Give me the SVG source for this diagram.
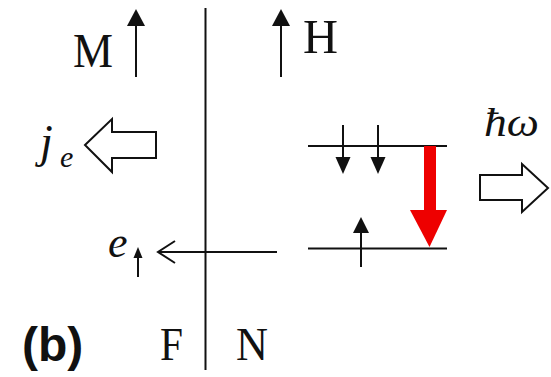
<svg xmlns="http://www.w3.org/2000/svg" width="551" height="377" viewBox="0 0 551 377">
<style>
.serif{font-family:"Liberation Serif","Times New Roman",serif;fill:#111}
.it{font-style:italic}
.ln{stroke:#111;stroke-width:2;fill:none}
.hollow{fill:#fff;stroke:#111;stroke-width:2;stroke-linejoin:miter}
.head{fill:#111;stroke:none}
</style>
<rect width="551" height="377" fill="#fff"/>
<g id="interface">
<line class="ln" x1="205.5" y1="8" x2="205.5" y2="370"/>
</g>
<g id="M">
<text class="serif" x="73" y="67" font-size="48" textLength="40" lengthAdjust="spacingAndGlyphs">M</text>
<line class="ln" x1="136" y1="24" x2="136" y2="77"/>
<polygon class="head" points="136,9 127,26 145,26"/>
</g>
<g id="H">
<line class="ln" x1="281" y1="24" x2="281" y2="77"/>
<polygon class="head" points="281,9 272,26 290,26"/>
<text class="serif" x="303" y="53" font-size="49" textLength="35" lengthAdjust="spacingAndGlyphs">H</text>
</g>
<g id="je">
<text class="serif it" x="40" y="157" font-size="46">j</text>
<text class="serif it" x="60" y="167" font-size="30">e</text>
<polygon class="hollow" points="85,145 112,119 112,132 156,132 156,158 112,158 112,172"/>
</g>
<g id="e-up">
<text class="serif it" x="108" y="257" font-size="44">e</text>
<line class="ln" x1="138" y1="254" x2="138" y2="277"/>
<polygon class="head" points="138,247 133.5,258 142.5,258"/>
</g>
<g id="connectors">
<line class="ln" x1="158" y1="252" x2="277" y2="252"/>
<polyline class="ln" points="175,241 158,252 175,263"/>
</g>
<g id="levels">
<line class="ln" x1="308" y1="146" x2="447" y2="146"/>
<line class="ln" x1="308" y1="248.5" x2="447" y2="248.5"/>
<line class="ln" x1="343" y1="125" x2="343" y2="160"/>
<polygon class="head" points="343,174 335.5,157 350.5,157"/>
<line class="ln" x1="378" y1="125" x2="378" y2="160"/>
<polygon class="head" points="378,174 370.5,157 385.5,157"/>
<line class="ln" x1="361" y1="230" x2="361" y2="267"/>
<polygon class="head" points="361,217 353,233 369,233"/>
</g>
<g id="transition">
<rect x="424" y="146" width="12" height="66" fill="#e00"/>
<polygon points="410,210 447,210 429.5,247" fill="#e00"/>
</g>
<g id="photon">
<text class="serif it" x="484" y="136" font-size="40" textLength="55" lengthAdjust="spacingAndGlyphs">ħω</text>
<polygon class="hollow" points="480,175 522,175 522,164 548,188 522,212 522,200 480,200"/>
</g>
<g id="labels">
<text x="22" y="361" font-family="Liberation Sans,Arial,sans-serif" font-weight="bold" font-size="48" fill="#111">(b)</text>
<text class="serif" x="160" y="360" font-size="46" textLength="23" lengthAdjust="spacingAndGlyphs">F</text>
<text class="serif" x="236" y="360" font-size="46" textLength="32" lengthAdjust="spacingAndGlyphs">N</text>
</g>
</svg>
